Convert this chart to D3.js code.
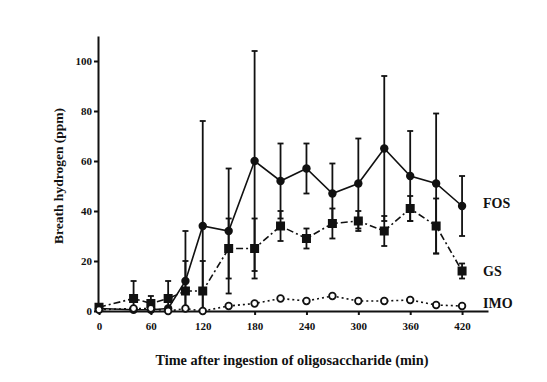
<!DOCTYPE html>
<html>
<head>
<meta charset="utf-8">
<script src="https://cdn.jsdelivr.net/npm/d3@7"></script>
<style>
  body { margin: 0; background: #fff; }
  svg text { font-family: "Liberation Serif", "DejaVu Serif", serif; fill: #111; }
  .axis text { font-size: 11px; font-weight: bold; }
  .axis path, .axis line { stroke: #111; stroke-width: 2; }
</style>
</head>
<body>
<script>
const times = [0, 40, 60, 80, 100, 120, 150, 180, 210, 240, 270, 300, 330, 360, 390, 420]

const fos = [1, 0.5, 0.5, 1, 12, 34, 32, 60, 52, 57, 47, 51, 65, 54, 51, 42]
const fosErr = [0, 0, 0, 0, 20, 42, 25, 44, 15, 10, 12, 18, 29, 18, 28, 12]

const gs = [1.5, 5, 3, 5, 8, 8, 25, 25, 34, 29, 35, 36, 32, 41, 34, 16]
const gsErr = [0, 7, 3, 7, 12, 12, 12, 12, 6, 4, 6, 4, 6, 5, 11, 3]

const imo = [0.5, 1, 1, 0, 1, 0, 2, 3, 5, 4, 6, 4, 4, 4.4, 2.4, 2]

const xTicks = [0, 60, 120, 180, 240, 300, 360, 420]
const yTicks = [0, 20, 40, 60, 80, 100]

const drawChart = () => {
    const w = 547
    const h = 382

    const svg = d3.select('body').append('svg')
        .attr('width', w)
        .attr('height', h)

    const x = d3.scaleLinear().domain([0, 450]).range([99, 488])
    const y = d3.scaleLinear().domain([0, 110]).range([311, 36])

    svg.append('g')
        .attr('class', 'axis')
        .attr('transform', `translate(0, ${y(0)})`)
        .call(d3.axisBottom(x).tickValues(xTicks).tickSize(4).tickSizeOuter(0).tickPadding(7))

    svg.append('g')
        .attr('class', 'axis')
        .attr('transform', `translate(98, 0)`)
        .call(d3.axisLeft(y).tickValues(yTicks).tickSize(4).tickSizeOuter(0).tickPadding(2))

    const series = [
        { name: 'FOS', values: fos, err: fosErr, dash: null },
        { name: 'GS', values: gs, err: gsErr, dash: '7,3,2,3' },
        { name: 'IMO', values: imo, err: null, dash: '2,3' }
    ]

    // error bars
    series.filter(s => s.err).forEach(s => {
        const g = svg.append('g')
        times.forEach((t, i) => {
            const v = s.values[i]
            const e = s.err[i]
            if (!e) return
            const hi = v + e
            const lo = Math.max(0, v - e)
            g.append('line')
                .attr('x1', x(t)).attr('x2', x(t))
                .attr('y1', y(hi)).attr('y2', y(lo))
                .attr('stroke', '#111').attr('stroke-width', 1.8)
            const caps = [hi]
            if (v - e > 0) caps.push(lo)
            caps.forEach(c => {
                g.append('line')
                    .attr('x1', x(t) - 3).attr('x2', x(t) + 3)
                    .attr('y1', y(c)).attr('y2', y(c))
                    .attr('stroke', '#111').attr('stroke-width', 1.8)
            })
        })
    })

    const line = d3.line()
        .x((d, i) => x(times[i]))
        .y(d => y(d))

    series.forEach(s => {
        svg.append('path')
            .datum(s.values)
            .attr('d', line)
            .attr('fill', 'none')
            .attr('stroke', '#111')
            .attr('stroke-width', 1.6)
            .attr('stroke-dasharray', s.dash)
    })

    // markers
    svg.append('g').selectAll('rect')
        .data(gs)
        .enter()
        .append('rect')
        .attr('x', (d, i) => x(times[i]) - 4.5)
        .attr('y', d => y(d) - 4.5)
        .attr('width', 9)
        .attr('height', 9)
        .attr('fill', '#111')

    svg.append('g').selectAll('circle')
        .data(fos)
        .enter()
        .append('circle')
        .attr('cx', (d, i) => x(times[i]))
        .attr('cy', d => y(d))
        .attr('r', 4.2)
        .attr('fill', '#111')

    svg.append('g').selectAll('circle')
        .data(imo)
        .enter()
        .append('circle')
        .attr('cx', (d, i) => x(times[i]))
        .attr('cy', d => y(d))
        .attr('r', 3.3)
        .attr('fill', '#fff')
        .attr('stroke', '#111')
        .attr('stroke-width', 1.8)

    // series labels
    const labels = [
        { name: 'FOS', v: 43 },
        { name: 'GS', v: 16 },
        { name: 'IMO', v: 3.2 }
    ]
    svg.append('g').selectAll('text')
        .data(labels)
        .enter()
        .append('text')
        .attr('x', 483)
        .attr('y', d => y(d.v))
        .attr('dy', '0.35em')
        .attr('font-size', 14)
        .attr('font-weight', 'bold')
        .text(d => d.name)

    svg.append('text')
        .attr('x', 292)
        .attr('y', 365)
        .attr('text-anchor', 'middle')
        .attr('font-size', 14.3)
        .attr('font-weight', 'bold')
        .text('Time after ingestion of oligosaccharide (min)')

    svg.append('text')
        .attr('transform', 'translate(63, 176) rotate(-90)')
        .attr('text-anchor', 'middle')
        .attr('font-size', 13.5)
        .attr('font-weight', 'bold')
        .text('Breath hydrogen (ppm)')
}

drawChart()
</script>
</body>
</html>
